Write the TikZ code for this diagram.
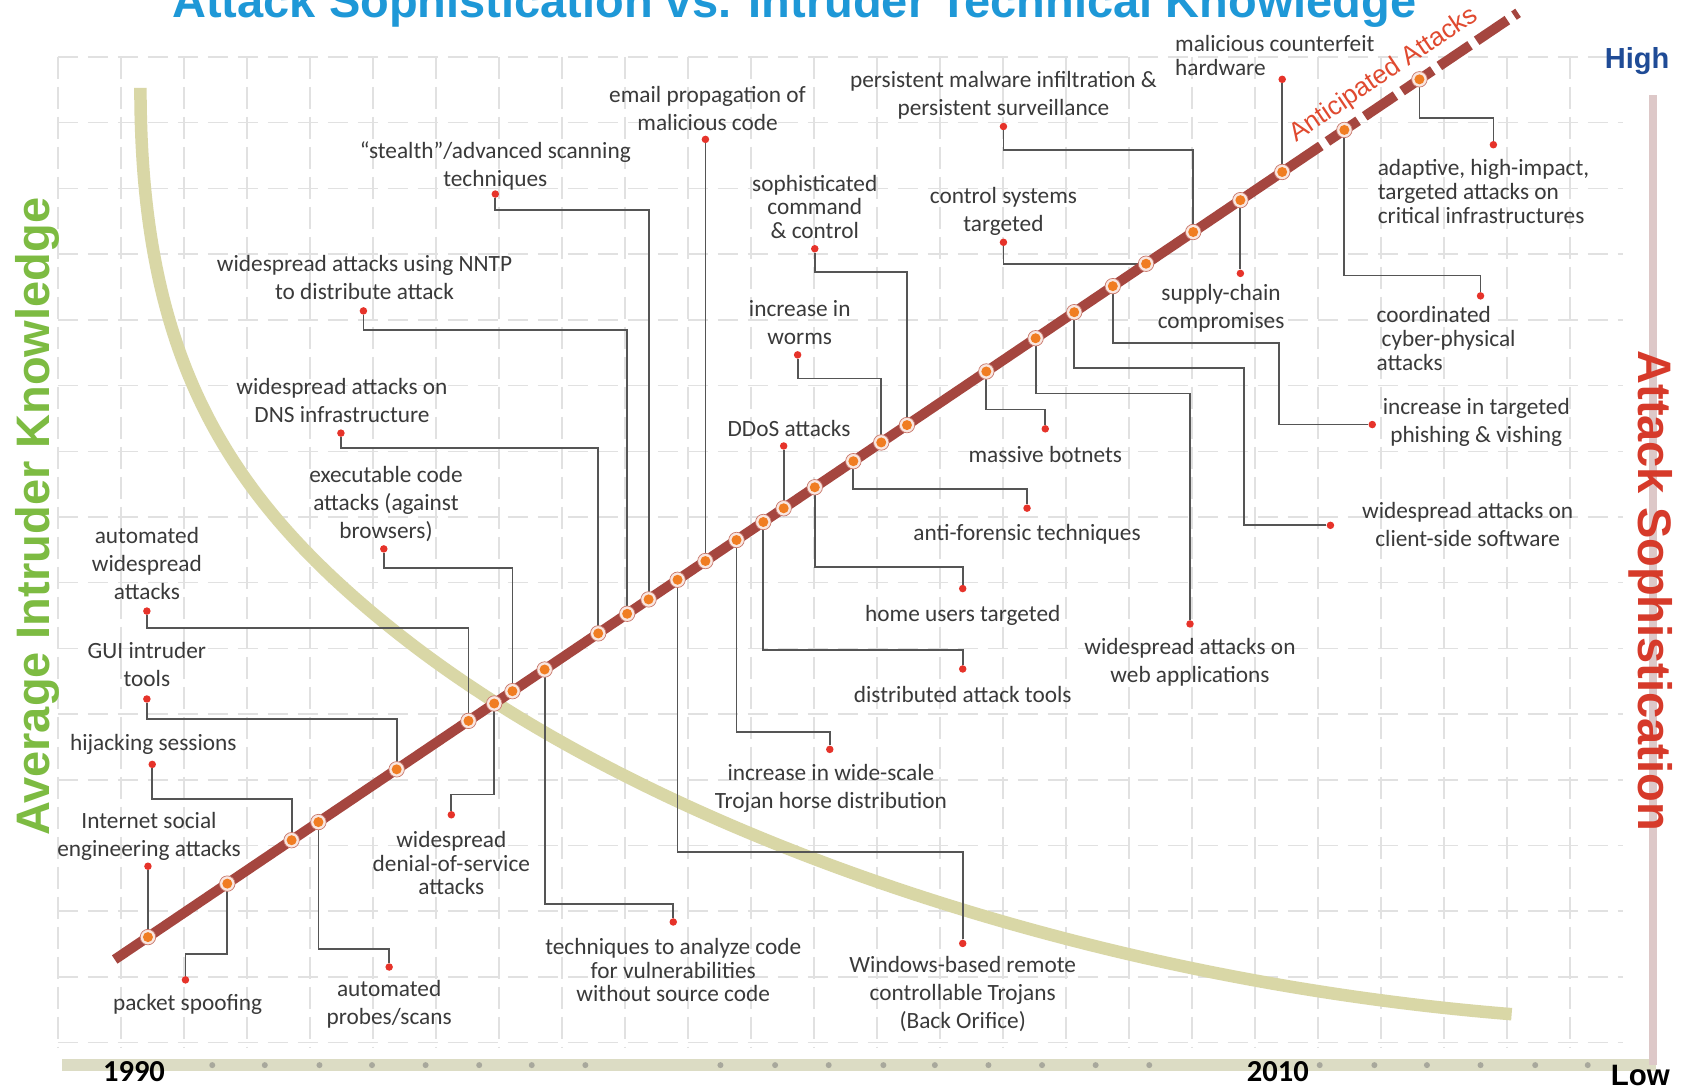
\documentclass[tikz,border=0pt]{standalone}
\usepackage{fontspec}
\setmainfont{Carlito}
\newfontfamily\arialf{Liberation Sans}
\definecolor{titleblue}{HTML}{1E98D7}
\definecolor{kgreen}{HTML}{7DBB42}
\definecolor{sred}{HTML}{D63A2A}
\definecolor{aline}{HTML}{A5463F}
\definecolor{curvec}{HTML}{D9D7A6}
\definecolor{gridc}{HTML}{E1E1E1}
\definecolor{connc}{HTML}{555555}
\definecolor{dotred}{HTML}{E6332A}
\definecolor{mkorange}{HTML}{F07D22}
\definecolor{mkring}{HTML}{F9E6E0}
\definecolor{mkedge}{HTML}{C8786C}
\definecolor{labc}{HTML}{3A3A3A}
\definecolor{axisc}{HTML}{DCDCC4}
\definecolor{axisdot}{HTML}{A8A89C}
\definecolor{raxis}{HTML}{DDC8C8}
\definecolor{highblue}{HTML}{1F4B96}
\definecolor{antred}{HTML}{E04A30}
\begin{document}
\begin{tikzpicture}[x=1.072pt,y=-1.072pt,
  lab/.style={font=\fontsize{23.3}{28}\selectfont,text=labc,align=center,inner sep=0pt},
  labt/.style={font=\fontsize{23.3}{23.5}\selectfont,text=labc,align=center,inner sep=0pt},
  labl/.style={font=\fontsize{23.3}{24}\selectfont,text=labc,align=left,inner sep=0pt,anchor=west},
  conn/.style={draw=connc,line width=1.8pt},
  mk/.style={circle,fill=mkring,draw=mkedge,line width=0.7pt,minimum size=15.5pt,inner sep=0pt,
    path picture={\fill[mkorange] (path picture bounding box.center) circle (5pt);}},
  rdot/.style={circle,fill=dotred,minimum size=7.5pt,inner sep=0pt},
  gridv/.style={draw=gridc,line width=1.5pt,dash pattern=on 22pt off 8pt},
  gridh/.style={draw=gridc,line width=1.5pt,dash pattern=on 20pt off 10pt},
  bigtxt/.style={font=\arialf\bfseries\fontsize{47}{47}\selectfont,inner sep=0pt},
  yeartxt/.style={font=\bfseries\fontsize{30.5}{30.5}\selectfont,text=black,inner sep=0pt,anchor=north}
]
\fill[white] (0,0) rectangle (1568,1013);
\useasboundingbox (0,0) rectangle (1568,1013);

% grid
\foreach \k in {0,...,24} \draw[gridv] ({54.1+58.77*\k},53) -- ({54.1+58.77*\k},978);
\foreach \k in {0,...,15} \draw[gridh] (54,{53.2+61.29*\k}) -- (1514,{53.2+61.29*\k});

% knowledge curve
\draw[curvec,line width=12.5pt] (131,82) .. controls (131,332) and (210,463) .. (370,590)
  .. controls (604,776) and (1010,914) .. (1410,946);

% axes
\draw[axisc,line width=12pt] (58,993.5) -- (1545,993.5);
\foreach \x in {198,247,298,347,397,447,496,546,672,723,773,824,872,922,972,1022,1072,1231,1282,1331,1381,1432,1481}
  \fill[axisdot] (\x,993.5) circle (3pt);
\draw[raxis,line width=8pt] (1542,89) -- (1542,993);

% marker positions
\coordinate (A) at (107,895);
\coordinate (S) at (1232,136.1);
\coordinate (E) at (1416,12.0);
\foreach \n/\x/\y in {1/138/874.1,2/212/824.2,3/272/783.7,4/297/766.8,5/370/717.6,6/437/672.4,
 7/461/656.2,8/478/644.7,9/508/624.5,10/558/590.8,11/585/572.5,12/605/559.1,13/632/540.8,
 14/658/523.3,15/687/503.7,16/712/486.9,17/731/474.1,18/760/454.5,19/796/430.2,20/822/412.7,
 21/846/396.5,22/920/346.5,23/966/315.5,24/1002/291.2,25/1038/266.9,26/1069/246.0,
 27/1113/216.4,28/1157/186.7,29/1196/160.4,30/1254/121.2,31/1324/74.0}
  \coordinate (m\n) at (\x,\y);

% red dots
\node[rdot] (d1) at (138,808) {};
\node[rdot] (d2) at (173,914) {};
\node[rdot] (d3) at (142,713) {};
\node[rdot] (d4) at (363,902) {};
\node[rdot] (d5) at (137,652) {};
\node[rdot] (d6) at (137,570) {};
\node[rdot] (d7) at (421,760) {};
\node[rdot] (d8) at (358,512) {};
\node[rdot] (d9) at (628,860) {};
\node[rdot] (d10) at (318,404) {};
\node[rdot] (d11) at (339,290) {};
\node[rdot] (d12) at (462,181) {};
\node[rdot] (d13) at (898,880) {};
\node[rdot] (d14) at (658,130) {};
\node[rdot] (d15) at (774,699) {};
\node[rdot] (d16) at (898,624) {};
\node[rdot] (d17) at (731,416) {};
\node[rdot] (d18) at (898,549) {};
\node[rdot] (d19) at (958,474) {};
\node[rdot] (d20) at (744,331) {};
\node[rdot] (d21) at (760,232) {};
\node[rdot] (d22) at (975,400) {};
\node[rdot] (d23) at (1110,582) {};
\node[rdot] (d24) at (1241,490) {};
\node[rdot] (d25) at (1280,396) {};
\node[rdot] (d26) at (936,226) {};
\node[rdot] (d27) at (936,118) {};
\node[rdot] (d28) at (1157,255) {};
\node[rdot] (d29) at (1196,74) {};
\node[rdot] (d30) at (1381,276) {};
\node[rdot] (d31) at (1393,135) {};

% connectors
\draw[conn] (d1) -- (m1);
\draw[conn] (d2) |- (212,890) -- (m2);
\draw[conn] (d3) |- (272,745) -- (m3);
\draw[conn] (d4) |- (297,885) -- (m4);
\draw[conn] (d5) |- (370,671) -- (m5);
\draw[conn] (d6) |- (437,586) -- (m6);
\draw[conn] (d7) |- (461,741) -- (m7);
\draw[conn] (d8) |- (478,530) -- (m8);
\draw[conn] (d9) |- (508,843) -- (m9);
\draw[conn] (d10) |- (558,418) -- (m10);
\draw[conn] (d11) |- (585,308) -- (m11);
\draw[conn] (d12) |- (605,196) -- (m12);
\draw[conn] (d13) |- (632,795) -- (m13);
\draw[conn] (d14) -- (m14);
\draw[conn] (d15) |- (687,683) -- (m15);
\draw[conn] (d16) |- (712,606) -- (m16);
\draw[conn] (d17) -- (m17);
\draw[conn] (d18) |- (760,529) -- (m18);
\draw[conn] (d19) |- (796,456) -- (m19);
\draw[conn] (d20) |- (822,353) -- (m20);
\draw[conn] (d21) |- (846,254) -- (m21);
\draw[conn] (d22) |- (920,382) -- (m22);
\draw[conn] (d23) |- (966,367) -- (m23);
\draw[conn] (d24) -| (1160,343) -| (m24);
\draw[conn] (d25) -| (1193,320) -| (m25);
\draw[conn] (d26) |- (m26);
\draw[conn] (d27) |- (1113,140) -- (m27);
\draw[conn] (d28) -- (m28);
\draw[conn] (d29) -- (m29);
\draw[conn] (d30) |- (1254,257) -- (m30);
\draw[conn] (d31) |- (1324,110) -- (m31);

% attack line
\draw[aline,line width=10pt] (A) -- (S);
\draw[aline,line width=10pt,dash pattern=on 0pt off 8pt on 37pt off 0pt] (S) -- (E);

% markers
\foreach \n in {1,...,31} \node[mk] (mk\n) at (m\n) {};

% labels
\node[lab] (l1) at (139,780) {Internet social\\engineering attacks};
\node[lab] (l2) at (175,937) {packet spoofing};
\node[lab] (l3) at (143,694) {hijacking sessions};
\node[lab] (l4) at (363,937) {automated\\probes/scans};
\node[lab] (l5) at (137,620) {GUI intruder\\tools};
\node[lab] (l6) at (137,526) {automated\\widespread\\attacks};
\node[labt] (l7) at (421,805) {widespread\\denial-of-service\\attacks};
\node[lab] (l8) at (360,470) {executable code\\attacks (against\\browsers)};
\node[labt] (l9) at (628,905) {techniques to analyze code\\for vulnerabilities\\without source code};
\node[lab] (l10) at (319,374) {widespread attacks on\\DNS infrastructure};
\node[lab] (l11) at (340,259) {widespread attacks using NNTP\\to distribute attack};
\node[lab] (l12) at (462,155) {“stealth”/advanced scanning\\techniques};
\node[lab] (l13) at (898,927) {Windows-based remote\\controllable Trojans\\(Back Orifice)};
\node[lab] (l14) at (660,101) {email propagation of\\malicious code};
\node[lab] (l15) at (775,735) {increase in wide-scale\\Trojan horse distribution};
\node[lab] (l16) at (898,648) {distributed attack tools};
\node[lab] (l17) at (736,400) {DDoS attacks};
\node[lab] (l18) at (898,574) {home users targeted};
\node[lab] (l19) at (958,498) {anti-forensic techniques};
\node[lab] (l20) at (746,301) {increase in\\worms};
\node[labt] (l21) at (760,193) {sophisticated\\command\\\& control};
\node[lab] (l22) at (975,424) {massive botnets};
\node[lab] (l23) at (1110,618) {widespread attacks on\\web applications};
\node[lab] (l24) at (1369,489) {widespread attacks on\\client-side software};
\node[lab] (l25) at (1377,394) {increase in targeted\\phishing \& vishing};
\node[lab] (l26) at (936,197) {control systems\\targeted};
\node[lab] (l27) at (936,89) {persistent malware infiltration \&\\persistent surveillance};
\node[lab] (l28) at (1139,288) {supply-chain\\compromises};
\node[labl] (l29) at (1096,51.5) {malicious counterfeit\\hardware};
\node[labl] (l30) at (1284,316) {coordinated\\\hspace*{5pt}cyber-physical\\attacks};
\node[labl] (l31) at (1285,179) {adaptive, high-impact,\\targeted attacks on\\critical infrastructures};

\node[font=\arialf\fontsize{26}{26}\selectfont,text=antred,rotate=34,inner sep=0pt] (ant) at (1291,70) {Anticipated Attacks};

% titles and axis labels
\node[bigtxt,text=titleblue,anchor=base] (title) at (741,16) {Attack Sophistication vs. Intruder Technical Knowledge};
\node[bigtxt,text=kgreen,rotate=90,anchor=base] (ylab) at (46.6,482) {Average Intruder Knowledge};
\node[bigtxt,text=sred,rotate=-90,anchor=base] (rlab) at (1528,551) {Attack Sophistication};
\node[font=\arialf\bfseries\fontsize{29}{29}\selectfont,text=highblue,inner sep=0pt,anchor=base] (high) at (1527,64) {High};
\node[font=\arialf\bfseries\fontsize{29.5}{29.5}\selectfont,text=black,inner sep=0pt,anchor=north] (low) at (1530,993) {Low};
\node[yeartxt] (y1990) at (125,990) {1990};
\node[yeartxt] (y2010) at (1192,990) {2010};
\end{tikzpicture}
\end{document}
